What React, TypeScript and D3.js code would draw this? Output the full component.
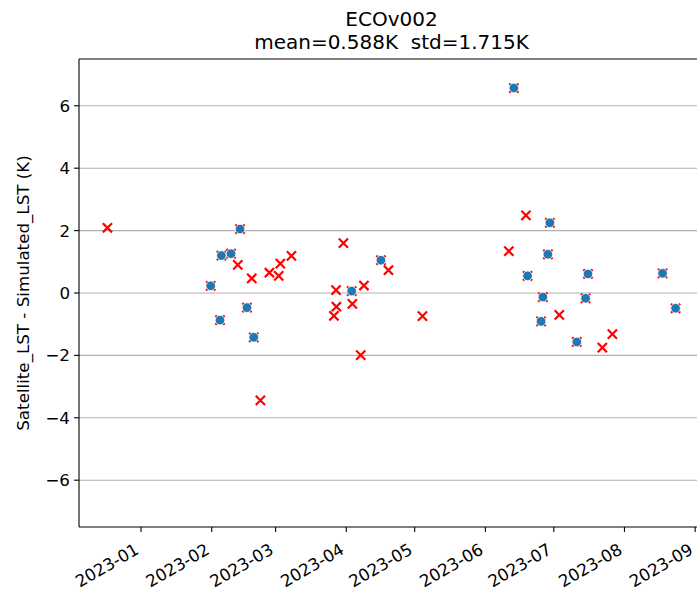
import React from 'react';
import * as d3 from 'd3';

// observation times, LST difference (K), and whether the point survived the QC filter
const obsTimes = [
  '2022-12-17T06:00', '2023-01-31T13:00', '2023-02-04T15:00', '2023-02-05T06:00',
  '2023-02-09T11:00', '2023-02-12T10:00', '2023-02-13T10:00', '2023-02-16T11:00',
  '2023-02-18T13:00', '2023-02-19T10:00', '2023-02-22T08:00', '2023-02-26T07:00',
  '2023-03-02T09:00', '2023-03-03T02:00', '2023-03-07T23:00', '2023-03-26T14:00',
  '2023-03-27T12:00', '2023-03-27T16:00', '2023-03-30T18:00', '2023-04-03T09:00',
  '2023-04-03T16:00', '2023-04-07T08:00', '2023-04-08T18:00', '2023-04-16T05:00',
  '2023-04-19T12:00', '2023-05-04T10:00', '2023-06-11T07:00', '2023-06-13T12:00',
  '2023-06-18T19:00', '2023-06-19T12:00', '2023-06-25T10:00', '2023-06-26T05:00',
  '2023-06-28T10:00', '2023-06-29T07:00', '2023-07-03T10:00', '2023-07-11T02:00',
  '2023-07-14T23:00', '2023-07-16T00:00', '2023-07-22T07:00', '2023-07-26T17:00',
  '2023-08-17T17:00', '2023-08-23T10:00',
];
const lstDiff = [
  2.09, 0.23, -0.87, 1.2, 1.26, 0.9, 2.05, -0.47, 0.47, -1.42, -3.44, 0.65,
  0.55, 0.94, 1.19, -0.73, 0.09, -0.44, 1.6, 0.06, -0.35, -1.99, 0.24, 1.05,
  0.73, -0.74, 1.34, 6.57, 2.49, 0.55, -0.91, -0.13, 1.24, 2.25, -0.7, -1.57,
  -0.17, 0.61, -1.75, -1.32, 0.63, -0.49,
];
const kept = [
  0, 1, 1, 1, 1, 0, 1, 1, 0, 1, 0, 0, 0, 0, 0, 0, 0, 0, 0, 1, 0, 0, 0, 1,
  0, 0, 0, 1, 0, 1, 1, 1, 1, 1, 0, 1, 1, 1, 0, 0, 1, 1,
];
const yTicks = [-6, -4, -2, 0, 2, 4, 6];
const monthTicks = [
  '2023-01-01', '2023-02-01', '2023-03-01', '2023-04-01', '2023-05-01',
  '2023-06-01', '2023-07-01', '2023-08-01', '2023-09-01',
];

const W = 697;
const H = 590;
const FONT = 'DejaVu Sans, sans-serif';
const TICK_FS = 16.7;
const TITLE_FS = 20;

export default function App() {
  const margin = { left: 79, right: 704, top: 59, bottom: 527 };
  const parse = d3.timeParse('%Y-%m-%dT%H:%M');
  const points = obsTimes.map((t, i) => ({
    date: parse(t) as Date,
    value: lstDiff[i],
    kept: kept[i] === 1,
  }));

  // matplotlib-style 5% padding around the data extent
  const [t0, t1] = d3.extent(points, d => d.date.getTime()) as [number, number];
  const pad = (t1 - t0) * 0.05;
  const x = d3.scaleTime()
    .domain([new Date(t0 - pad), new Date(t1 + pad)])
    .range([margin.left, margin.right]);
  const y = d3.scaleLinear()
    .domain([-7.5, 7.5])
    .range([margin.bottom, margin.top]);

  const fmtMonth = d3.timeFormat('%Y-%m');
  const monthDates = monthTicks.map(d => d3.timeParse('%Y-%m-%d')(d) as Date);
  const fmtY = (v: number) => (v < 0 ? '\u2212' + Math.abs(v) : String(v));
  const arm = 4.6;

  return (
    <svg width={W} height={H} style={{ position: 'absolute', left: 0, top: 0, background: '#fff' }}
      fontFamily={FONT}>
      <rect width={W} height={H} fill="#fff" />
      {/* horizontal grid */}
      {yTicks.map(t => (
        <line key={`g${t}`} x1={margin.left} x2={margin.right} y1={y(t)} y2={y(t)}
          stroke="#b0b0b0" strokeWidth={1.1} />
      ))}

      {/* all matchups as red crosses */}
      {points.map((p, i) => (
        <path key={`x${i}`}
          transform={`translate(${x(p.date)},${y(p.value)})`}
          d={`M${-arm},${-arm}L${arm},${arm}M${-arm},${arm}L${arm},${-arm}`}
          stroke="#ff0000" strokeWidth={2.2} fill="none" />
      ))}
      {/* filtered points on top */}
      {points.filter(p => p.kept).map((p, i) => (
        <circle key={`c${i}`} cx={x(p.date)} cy={y(p.value)} r={4.8}
          fill="#1f77b4" stroke="#fff" strokeWidth={0.8} />
      ))}

      {/* spines */}
      <line x1={margin.left} x2={margin.left} y1={margin.top} y2={margin.bottom} stroke="#000" strokeWidth={1.1} />
      <line x1={margin.left} x2={margin.right} y1={margin.bottom} y2={margin.bottom} stroke="#000" strokeWidth={1.1} />
      <line x1={margin.left} x2={margin.right} y1={margin.top} y2={margin.top} stroke="#000" strokeWidth={1.1} />
      <line x1={margin.right} x2={margin.right} y1={margin.top} y2={margin.bottom} stroke="#000" strokeWidth={1.1} />

      {/* y axis */}
      {yTicks.map(t => (
        <g key={`y${t}`}>
          <line x1={margin.left - 4.9} x2={margin.left} y1={y(t)} y2={y(t)} stroke="#000" strokeWidth={1.1} />
          <text x={margin.left - 9} y={y(t)} dy="0.36em" textAnchor="end" fontSize={TICK_FS} fill="#000">
            {fmtY(t)}
          </text>
        </g>
      ))}
      <text transform={`translate(29,${(margin.top + margin.bottom) / 2}) rotate(-90)`}
        textAnchor="middle" fontSize={TICK_FS} fill="#000">
        Satellite_LST - Simulated_LST (K)
      </text>

      {/* x axis */}
      {monthDates.map(d => (
        <g key={`m${d.getTime()}`}>
          <line x1={x(d)} x2={x(d)} y1={margin.bottom} y2={margin.bottom + 4.9} stroke="#000" strokeWidth={1.1} />
          <text transform={`translate(${x(d) - 1},${margin.bottom + 26}) rotate(-30)`}
            textAnchor="end" fontSize={TICK_FS} fill="#000">
            {fmtMonth(d)}
          </text>
        </g>
      ))}

      {/* title */}
      <text x={(margin.left + margin.right) / 2} y={26} textAnchor="middle" fontSize={TITLE_FS} fill="#000">ECOv002</text>
      <text x={(margin.left + margin.right) / 2} y={49} textAnchor="middle" fontSize={TITLE_FS} fill="#000"
        xmlSpace="preserve" style={{ whiteSpace: 'pre' }}>
        {'mean=0.588K  std=1.715K'}
      </text>
    </svg>
  );
}
